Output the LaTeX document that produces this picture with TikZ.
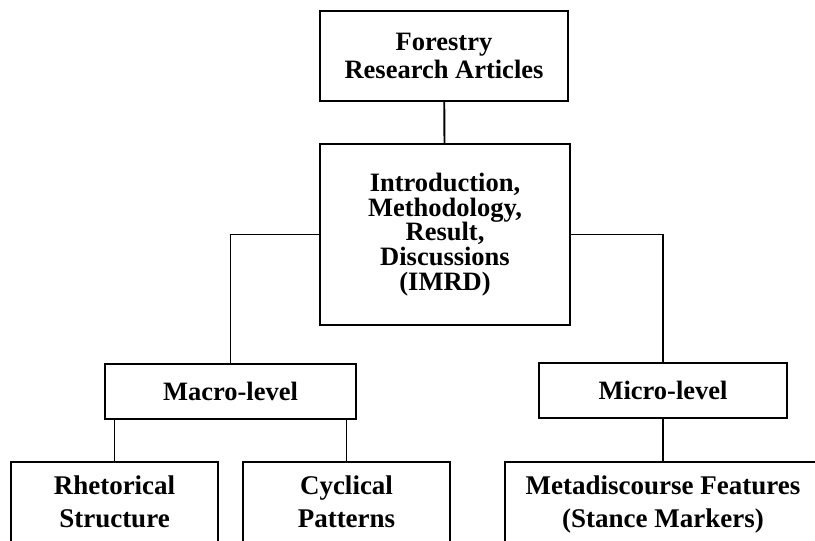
\documentclass[tikz,border=0pt]{standalone}
\usepackage{fontspec}
\setmainfont{Liberation Serif}
\begin{document}
\begin{tikzpicture}[x=1pt,y=-1pt,
  box/.style={draw, line width=1.9pt, align=center, inner sep=0pt, fill=white,
    font=\fontsize{26.5}{28}\selectfont\bfseries},
  leafbox/.style={box, anchor=north, inner ysep=14pt, text depth=70pt,
    font=\fontsize{27}{33}\selectfont\bfseries},
  link/.style={line width=1.9pt}]
\fill[white] (0,0) rectangle (815,541);
\useasboundingbox (0,0) rectangle (815,541);
\node[box, minimum width=248, minimum height=90] (top) at (444,56) {Forestry\\Research Articles};
\node[box, minimum width=250, minimum height=181,
  font=\fontsize{26.5}{24.7}\selectfont\bfseries] (imrd) at (445,234.5)
  {Introduction,\\Methodology,\\Result,\\Discussions\\(IMRD)};
\node[box, minimum width=251, minimum height=55] (macro) at (230.5,391.5) {Macro-level};
\node[box, minimum width=248, minimum height=55] (micro) at (663,390.5) {Micro-level};
\node[leafbox, minimum width=207] (rhet) at (114.5,461) {Rhetorical\\Structure};
\node[leafbox, minimum width=207] (cyc) at (346.5,461) {Cyclical\\Patterns};
\node[leafbox, minimum width=316] (meta) at (663,461) {Metadiscourse Features\\(Stance Markers)};
\draw[link] (top) -- (imrd);
\draw[link] (imrd.west) -| (macro.north);
\draw[link] (imrd.east) -| (micro.north);
\draw[link] (macro.south -| rhet.north) -- (rhet.north);
\draw[link] (macro.south -| cyc.north) -- (cyc.north);
\draw[link] (micro) -- (meta);
\end{tikzpicture}
\end{document}
